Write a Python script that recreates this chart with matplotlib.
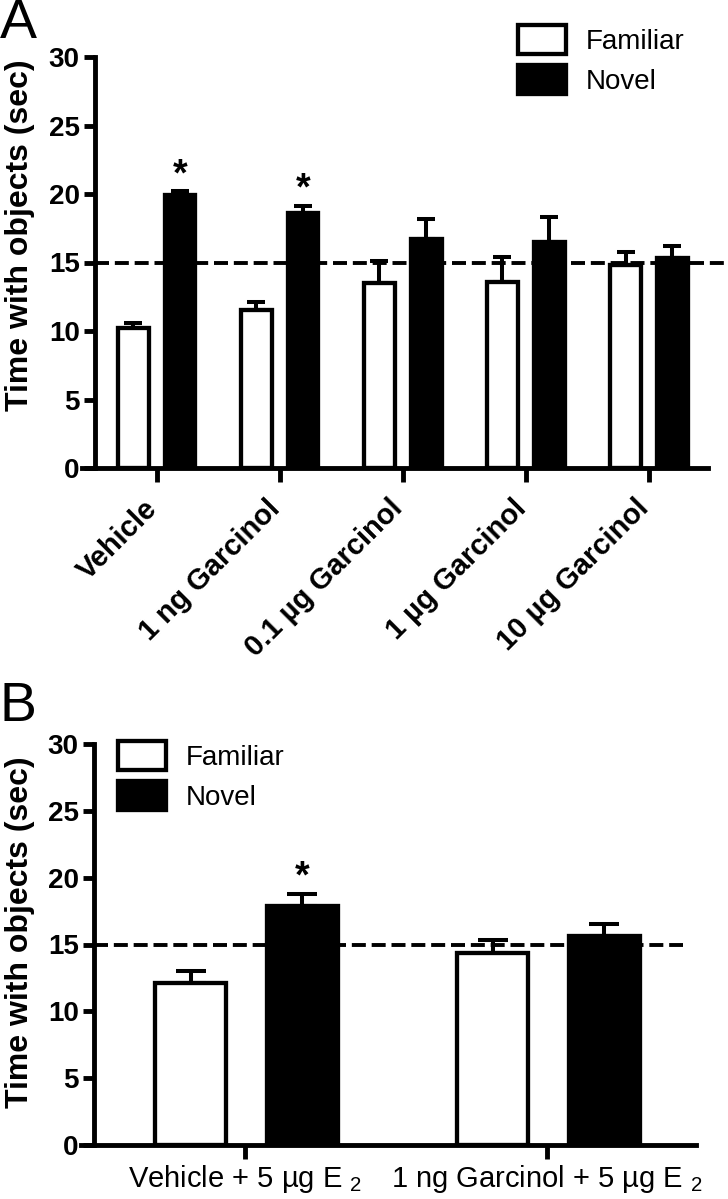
import numpy as np
import matplotlib
matplotlib.use('Agg')
import matplotlib.pyplot as plt
from matplotlib.patches import Patch
from matplotlib.transforms import ScaledTranslation

plt.rcParams['font.family'] = ['Liberation Sans', 'DejaVu Sans']
plt.rcParams['mathtext.fontset'] = 'custom'
plt.rcParams['mathtext.rm'] = 'Liberation Sans'
plt.rcParams['mathtext.default'] = 'regular'

# panel A data
groups_a = ['Vehicle', '1 ng Garcinol', '0.1 µg Garcinol', '1 µg Garcinol', '10 µg Garcinol']
familiar_a = [10.2, 11.5, 13.5, 13.6, 14.8]
familiar_a_err = [0.4, 0.6, 1.6, 1.8, 1.0]
novel_a = [19.9, 18.6, 16.7, 16.5, 15.3]
novel_a_err = [0.3, 0.55, 1.5, 1.8, 0.9]
sig_a = [True, True, False, False, False]

# panel B data
groups_b = ['Vehicle + 5 µg E $_2$', '1 ng Garcinol + 5 µg E $_2$']
familiar_b = [12.1, 14.4]
familiar_b_err = [0.9, 0.9]
novel_b = [17.9, 15.6]
novel_b_err = [0.9, 0.95]
sig_b = [True, False]

chance_level = 15
y_ticks = [0, 5, 10, 15, 20, 25, 30]

W, H = 728, 1199
fig = plt.figure(figsize=(W / 100, H / 100), dpi=100)

LW_SPINE = 3.5
LW_BAR = 3.1
LW_ERR = 2.9


def fx(px):
    return px / W


def fy(px):
    return 1 - px / H


def style_axes(ax, xlim, spine_x):
    ax.set_xlim(*xlim)
    ax.set_ylim(0, 30)
    for s in ['top', 'right']:
        ax.spines[s].set_visible(False)
    ax.spines['left'].set_position(('data', spine_x))
    ax.spines['left'].set_linewidth(LW_SPINE)
    ax.spines['bottom'].set_linewidth(LW_SPINE)
    ax.spines['left'].set_capstyle('projecting')
    ax.set_yticks(y_ticks)
    ax.set_yticklabels([str(t) for t in y_ticks], fontsize=20, fontweight='bold')
    ax.tick_params(axis='y', length=8, width=LW_SPINE, pad=3)
    ax.tick_params(axis='x', length=10, width=LW_SPINE)


def draw_group(ax, x, fam, fam_err, nov, nov_err, sig, off_f, off_n, width, capsize):
    x = np.asarray(x, dtype=float)
    ax.bar(x + off_f, fam, width, color='white', edgecolor='black', linewidth=LW_BAR, zorder=3)
    ax.bar(x + off_n, nov, width, color='black', edgecolor='black', linewidth=LW_BAR, zorder=3)
    z = np.zeros(len(x))
    ax.errorbar(x + off_f, fam, yerr=[z, fam_err], fmt='none', ecolor='black',
                elinewidth=LW_ERR, capsize=capsize, capthick=LW_ERR, zorder=2)
    ax.errorbar(x + off_n, nov, yerr=[z, nov_err], fmt='none', ecolor='black',
                elinewidth=LW_ERR, capsize=capsize, capthick=LW_ERR, zorder=2)
    # significance stars above the novel bars
    for xi, v, e, s in zip(x, nov, nov_err, sig):
        if s:
            ax.text(xi + off_n, v + e + 0.45, '*', ha='center', va='baseline',
                    fontsize=27, fontweight='bold')


def legend(loc_px):
    handles = [Patch(facecolor='white', edgecolor='black', linewidth=LW_BAR),
               Patch(facecolor='black', edgecolor='black', linewidth=LW_BAR)]
    fig.legend(handles, ['Familiar', 'Novel'], loc='upper left',
               bbox_to_anchor=(fx(loc_px[0]), fy(loc_px[1])), frameon=False,
               fontsize=20, handlelength=1.74, handleheight=1.23, handletextpad=0.7,
               labelspacing=0.36, borderpad=0, borderaxespad=0)


# ---- panel A ----
ax_a = fig.add_axes([fx(82), fy(468), fx(708) - fx(82), fy(57) - fy(468)])
xa = np.arange(len(groups_a))
style_axes(ax_a, (-0.606, 4.48), -0.5)
draw_group(ax_a, xa, familiar_a, familiar_a_err, novel_a, novel_a_err, sig_a,
           -0.19, 0.19, 0.25, 6.5)
ax_a.plot([-0.5, 4.64], [chance_level, chance_level], ls=(0, (3.6, 1.5)), color='black',
          lw=2.8, clip_on=False, zorder=4)
ax_a.set_xticks(xa)
ax_a.set_xticklabels(groups_a, rotation=45, ha='right', va='center', rotation_mode='anchor',
                     fontsize=21, fontweight='bold')
ax_a.tick_params(axis='x', pad=16)
shift = ScaledTranslation(-4 / 100, 0, fig.dpi_scale_trans)
for lab in ax_a.get_xticklabels():
    lab.set_transform(lab.get_transform() + shift)
legend((518, 25))

# ---- panel B ----
ax_b = fig.add_axes([fx(81), fy(1145), fx(696) - fx(81), fy(744) - fy(1145)])
xb = np.arange(len(groups_b))
style_axes(ax_b, (-0.543, 1.493), -0.5)
draw_group(ax_b, xb, familiar_b, familiar_b_err, novel_b, novel_b_err, sig_b,
           -0.18, 0.19, 0.235, 11)
ax_b.plot([-0.5, 1.45], [chance_level, chance_level], ls=(0, (3.6, 1.5)), color='black',
          lw=2.8, clip_on=False, zorder=4)
ax_b.set_xticks(xb)
ax_b.set_xticklabels(groups_b, fontsize=21)
ax_b.tick_params(axis='x', pad=3)
legend((118, 741))

# axis titles and panel letters
for yc in (235, 932):
    fig.text(fx(20), fy(yc), 'Time with objects (sec)', rotation=90, ha='center',
             va='center', fontsize=23, fontweight='bold')
fig.text(fx(0), fy(-2), 'A', ha='left', va='top', fontsize=40)
fig.text(fx(0), fy(681), 'B', ha='left', va='top', fontsize=40)

fig.savefig('out.png', dpi=100)
